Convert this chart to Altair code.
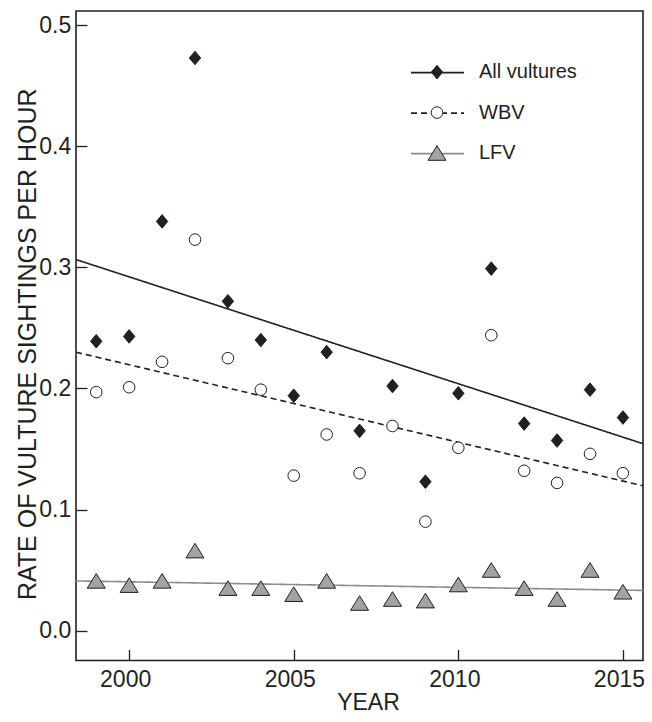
import altair as alt
import pandas as pd

# ---- data ----
years = list(range(1999, 2016))
all_vultures = [0.239, 0.243, 0.338, 0.473, 0.272, 0.240, 0.194, 0.230, 0.165,
                0.202, 0.123, 0.196, 0.299, 0.171, 0.157, 0.199, 0.176]
wbv = [0.197, 0.201, 0.222, 0.323, 0.225, 0.199, 0.128, 0.162, 0.130,
       0.169, 0.090, 0.151, 0.244, 0.132, 0.122, 0.146, 0.130]
lfv = [0.041, 0.0375, 0.041, 0.066, 0.035, 0.035, 0.030, 0.041, 0.0227,
       0.026, 0.0247, 0.038, 0.050, 0.035, 0.026, 0.050, 0.032]
series_names = ["All vultures", "WBV", "LFV"]
x_ticks = [2000, 2005, 2010, 2015]
y_ticks = [0.0, 0.1, 0.2, 0.3, 0.4, 0.5]
x_domain = [1998.385, 2015.61]
y_domain = [-0.0247, 0.5118]

rows = []
for i, (name, vals) in enumerate(zip(series_names, [all_vultures, wbv, lfv])):
    for yr, v in zip(years, vals):
        rows.append({"year": yr, "rate": v, "series": name, "marker": name, "order": i})
df = pd.DataFrame(rows)

# ---- styling ----
INK = "#231f20"
FONT = "Liberation Sans"
DIAMOND = "M0,-0.68L0.57,0L0,0.68L-0.57,0Z"
k = 0.3204
r = 0.58
CIRCLE = (f"M{r},0C{r},{k} {k},{r} 0,{r}C-{k},{r} -{r},{k} -{r},0"
          f"C-{r},-{k} -{k},-{r} 0,-{r}C{k},-{r} {r},-{k} {r},0Z")
TRIANGLE = "M0,-0.74L0.9,0.72L-0.9,0.72Z"
LINE = "M-2.65,0L2.65,0"

PLOT_W = 567
PLOT_H = 649.5

xs = alt.Scale(domain=x_domain, nice=False, zero=False)
ys = alt.Scale(domain=y_domain, nice=False, zero=False)

legend_common = dict(orient="none", legendX=350.5, legendY=50.6, padding=0,
                     rowPadding=19.5, symbolSize=400, labelOffset=31.5,
                     labelFontSize=20, labelFont=FONT, title=None)

line_legend = alt.Legend(symbolType=LINE, symbolStrokeWidth=1.6,
                         symbolFillColor="transparent", labelColor="transparent",
                         zindex=0, **legend_common)

base = alt.Chart(df)

lines = base.transform_regression(
    "year", "rate", groupby=["series"], extent=x_domain
).mark_line(strokeWidth=1.6, clip=True).encode(
    x=alt.X("year:Q", scale=xs,
            axis=alt.Axis(orient="bottom", values=x_ticks, labels=False, domain=False,
                          ticks=True, tickSize=11, offset=-11, tickColor=INK,
                          tickWidth=1.3, grid=False, title=None)),
    y=alt.Y("rate:Q", scale=ys,
            axis=alt.Axis(orient="left", values=y_ticks, labels=False, domain=False,
                          ticks=True, tickSize=11, offset=-11, tickColor=INK,
                          tickWidth=1.3, grid=False, title=None)),
    stroke=alt.Stroke("series:N",
                      scale=alt.Scale(domain=series_names, range=[INK, INK, "#8c8c8c"]),
                      legend=line_legend),
    strokeDash=alt.StrokeDash("series:N",
                              scale=alt.Scale(domain=series_names,
                                              range=[[1, 0], [6, 4], [1, 0]]),
                              legend=line_legend),
)

marker_legend = alt.Legend(symbolStrokeWidth=1, labelColor=INK, zindex=1,
                           **legend_common)
marker_sort = alt.EncodingSortField(field="order", op="min")

points = base.mark_point(filled=False, size=400, strokeWidth=1,
                         opacity=1).encode(
    x=alt.X("year:Q", scale=xs,
            axis=alt.Axis(orient="bottom", values=x_ticks, format="d", ticks=False,
                          domain=False, grid=False, labelFontSize=23, labelFont=FONT,
                          labelColor=INK, labelPadding=8, labelOffset=-4,
                          title="YEAR",
                          titleFontSize=23, titleFont=FONT, titleFontWeight="normal",
                          titleColor=INK, titleBaseline="alphabetic", titleX=292,
                          titleY=48.5, titleAlign="center")),
    y=alt.Y("rate:Q", scale=ys,
            axis=alt.Axis(orient="left", values=y_ticks, format=".1f", ticks=False,
                          domain=False, grid=False, labelFontSize=23, labelFont=FONT,
                          labelColor=INK, labelPadding=5.3,
                          title="RATE OF VULTURE SIGHTINGS PER HOUR",
                          titleFontSize=25, titleFont=FONT, titleFontWeight="normal",
                          titleColor=INK, titleBaseline="alphabetic", titleAngle=270,
                          titleX=-41, titleY=PLOT_H / 2 + 8, titleAlign="center")),
    shape=alt.Shape("marker:N", sort=marker_sort,
                    scale=alt.Scale(range=[DIAMOND, CIRCLE, TRIANGLE]),
                    legend=marker_legend),
    fill=alt.Fill("marker:N", sort=marker_sort,
                  scale=alt.Scale(range=[INK, "#ffffff", "#a3a3a3"]),
                  legend=marker_legend),
    color=alt.Color("marker:N", sort=marker_sort,
                    scale=alt.Scale(range=[INK, INK, INK]),
                    legend=marker_legend),
)

chart = alt.layer(lines, points).resolve_axis(
    x="independent", y="independent"
).properties(
    width=PLOT_W, height=PLOT_H,
    padding={"left": 68, "top": 3, "right": 1, "bottom": 53.5},
    autosize=alt.AutoSizeParams(type="none"),
    background="white",
).configure_view(stroke=INK, strokeWidth=1.6)

chart.save("out.html", embed_options={"renderer": "svg", "actions": False})
